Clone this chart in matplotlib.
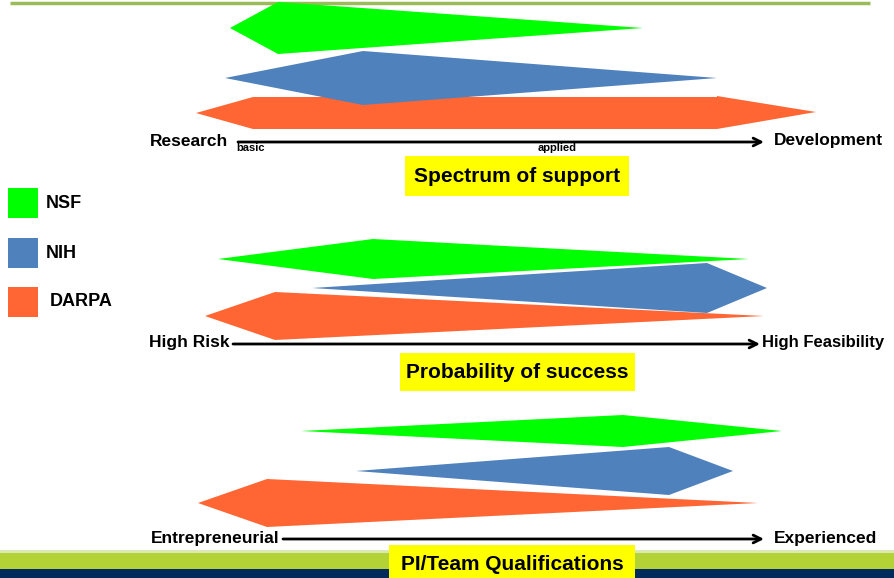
import matplotlib.pyplot as plt
from matplotlib.patches import Polygon, Rectangle

plt.rcParams['font.family'] = ['Liberation Sans Narrow', 'Liberation Sans', 'DejaVu Sans']

agencies = ['NSF', 'NIH', 'DARPA']
colors = ['#00FF00', '#4F81BD', '#FF6633']

# each panel: left tip x, widest x, right tip x, centre y, half height (pixels)
spec_left = [230, 225, 196]
spec_peak = [278, 363, 253]
spec_right = [643, 717, 816]
spec_mid = [28, 78, 113]
spec_half = [26, 27, 16]
darpa_body_end = 717   # DARPA in panel 1 is a long arrow
darpa_head_half = 17

prob_left = [218, 312, 205]
prob_peak = [373, 707, 275]
prob_right = [749, 767, 764]
prob_mid = [259, 288, 316]
prob_half = [20, 25, 24]

qual_left = [301, 356, 198]
qual_peak = [623, 669, 267]
qual_right = [782, 733, 758]
qual_mid = [431, 471, 503]
qual_half = [16, 24, 24]

# axis arrows: start x, end x, y, labels and their gaps
axis_start = [238, 233, 283]
axis_end = [764, 760, 764]
axis_y = [142, 344, 539]
axis_left_lbl = ['Research', 'High Risk', 'Entrepreneurial']
axis_right_lbl = ['Development', 'High Feasibility', 'Experienced']
left_gap = [10, 3, 3]
right_gap = [10, 2, 10]
titles = ['Spectrum of support', 'Probability of success', 'PI/Team Qualifications']
title_box = [(405, 156, 224, 40), (400, 353, 235, 38), (389, 545, 246, 33)]
title_y = [177, 372, 564]


def kite(ax, left, peak, right, mid, half, color):
    # two triangles meeting at the widest point
    ax.add_patch(Polygon([(left, mid), (peak, mid - half), (peak, mid + half)],
                         closed=True, fc=color, ec='none'))
    ax.add_patch(Polygon([(peak, mid - half), (right, mid), (peak, mid + half)],
                         closed=True, fc=color, ec='none'))


fig = plt.figure(figsize=(8.94, 5.78), dpi=100)
ax = fig.add_axes([0, 0, 1, 1])
ax.set_xlim(0, 894)
ax.set_ylim(578, 0)
ax.axis('off')

# decoration bands
ax.plot([10, 870], [3, 3], color='#9BBB59', lw=2.5, solid_capstyle='butt', zorder=0.5)
ax.add_patch(Rectangle((0, 550), 894, 3, fc='#DCE8B4', ec='none'))
ax.add_patch(Rectangle((0, 553), 894, 16, fc='#B3D236', ec='none'))
ax.add_patch(Rectangle((0, 569), 894, 9, fc='#002B5C', ec='none'))

# panel 1
for i in [2, 1, 0]:
    if agencies[i] == 'DARPA':
        m, h = spec_mid[i], spec_half[i]
        ax.add_patch(Polygon([(spec_left[i], m), (spec_peak[i], m - h),
                              (darpa_body_end, m - h), (darpa_body_end, m + h),
                              (spec_peak[i], m + h)], closed=True, fc=colors[i], ec='none'))
        ax.add_patch(Polygon([(darpa_body_end, m - darpa_head_half), (spec_right[i], m - 1),
                              (darpa_body_end, m + h)], closed=True, fc=colors[i], ec='none'))
    else:
        kite(ax, spec_left[i], spec_peak[i], spec_right[i], spec_mid[i], spec_half[i], colors[i])

# panels 2 and 3
for i in [2, 1, 0]:
    kite(ax, prob_left[i], prob_peak[i], prob_right[i], prob_mid[i], prob_half[i], colors[i])
    kite(ax, qual_left[i], qual_peak[i], qual_right[i], qual_mid[i], qual_half[i], colors[i])

# axis arrows and labels
for k in range(3):
    ax.annotate('', xy=(axis_end[k], axis_y[k]), xytext=(axis_start[k], axis_y[k]),
                arrowprops=dict(arrowstyle='->', lw=2, color='black',
                                shrinkA=0, shrinkB=0, mutation_scale=14))
    ax.text(axis_start[k] - left_gap[k], axis_y[k] - 1, axis_left_lbl[k], ha='right',
            va='center', fontsize=12.5, fontweight='bold')
    ax.text(axis_end[k] + right_gap[k], axis_y[k] - 1, axis_right_lbl[k], ha='left',
            va='center', fontsize=12.5 if k != 1 else 12, fontweight='bold')
    bx, by, bw, bh = title_box[k]
    ax.add_patch(Rectangle((bx, by), bw, bh, fc='#FFFF00', ec='none', zorder=3))
    ax.text(bx + bw / 2, title_y[k], titles[k], ha='center', va='center',
            fontsize=15, fontweight='bold', zorder=4)

ax.text(236, 148, 'basic', ha='left', va='center', fontsize=8, fontweight='bold')
ax.text(538, 148, 'applied', ha='left', va='center', fontsize=8, fontweight='bold')

# legend
legend_y = [188, 238, 287]
legend_x = [46, 46, 50]
for i in range(3):
    ax.add_patch(Rectangle((8, legend_y[i]), 30, 30, fc=colors[i], ec='none'))
    ax.text(legend_x[i], legend_y[i] + 15, agencies[i], ha='left', va='center',
            fontsize=13, fontweight='bold')

fig.savefig('out.png', dpi=100)
